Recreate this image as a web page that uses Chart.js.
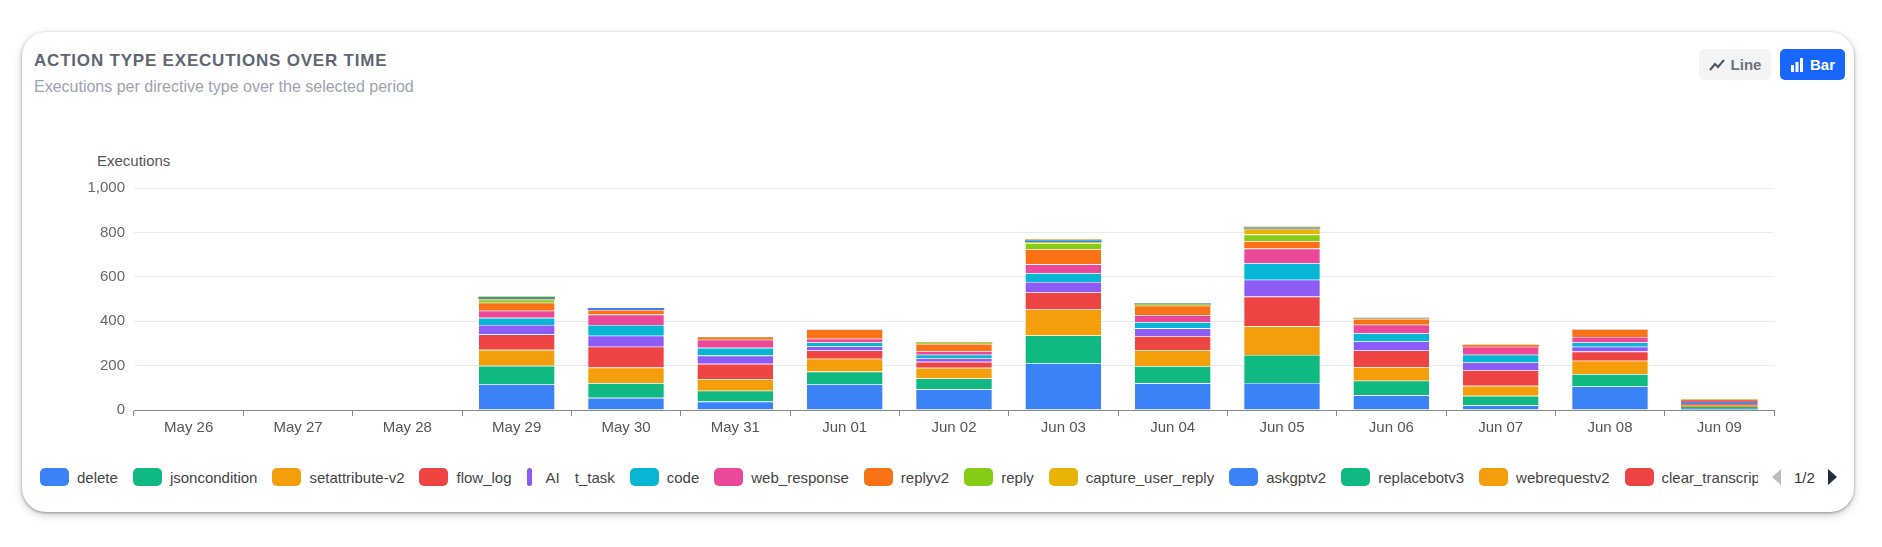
<!DOCTYPE html>
<html>
<head>
<meta charset="utf-8">
<script src="https://cdn.jsdelivr.net/npm/chart.js@4.4.1/dist/chart.umd.min.js"></script>
<style>
body{margin:0;background:#fff;font-family:"Liberation Sans",Arial,sans-serif;width:1882px;height:547px;overflow:hidden;position:relative}
.card{position:absolute;left:22px;top:32px;width:1832px;height:480px;border-radius:24px;background:#fff;box-shadow:0 1px 3px rgba(0,0,0,.35),0 3px 10px rgba(0,0,0,.18)}
.title{position:absolute;left:34px;top:51px;font-size:17px;font-weight:600;letter-spacing:.8px;color:#5f6673}
.sub{position:absolute;left:34px;top:78px;font-size:16px;color:#9ca3af}
.btn{position:absolute;top:49px;height:31px;border-radius:5px;font-size:15px;font-weight:600;display:flex;align-items:center;justify-content:center;gap:6px}
.line{left:1699px;width:72px;background:#f3f4f6;color:#6b7280}
.bar{left:1780px;width:65px;background:#1766ff;color:#fff}
.ytitle{position:absolute;left:97px;top:152px;font-size:15px;color:#555}
#wrap{position:absolute;left:60px;top:170px;width:1740px;height:270px}
#legend{position:absolute;left:40px;top:466px;width:1718px;height:22px;overflow:hidden;display:flex;white-space:nowrap;font-size:15px;color:#444}
.li{display:flex;align-items:center;margin-right:15px}
.sw{width:29px;height:18px;border-radius:5px;margin-right:8px;flex:none}
.pager{position:absolute;left:1770px;top:466px;height:22px;display:flex;align-items:center;font-size:15px;color:#333}
</style>
</head>
<body>
<div class="card"></div>
<div class="title">ACTION TYPE EXECUTIONS OVER TIME</div>
<div class="sub">Executions per directive type over the selected period</div>
<div class="btn line"><svg width="16" height="12" viewBox="0 0 16 12"><polyline points="1,11 6,5 9,8 15,1" fill="none" stroke="#4b5563" stroke-width="2"/></svg>Line</div>
<div class="btn bar"><svg width="14" height="14" viewBox="0 0 14 14"><rect x="1" y="7" width="3" height="7" fill="#fff"/><rect x="5.5" y="4" width="3" height="10" fill="#fff"/><rect x="10" y="0" width="3" height="14" fill="#fff"/></svg>Bar</div>
<div class="ytitle">Executions</div>
<div id="wrap"><canvas id="grafica"></canvas></div>
<div id="legend"></div>
<div class="pager"><svg width="12" height="18"><polygon points="11,1 11,17 2,9" fill="#bbb"/></svg><span style="margin:0 12px 0 12px">1/2</span><svg width="12" height="18"><polygon points="1,1 1,17 10,9" fill="#1f2d3d"/></svg></div>

<script>
// datos
const dias = ['May 26','May 27','May 28','May 29','May 30','May 31','Jun 01','Jun 02','Jun 03','Jun 04','Jun 05','Jun 06','Jun 07','Jun 08','Jun 09'];

const tipos = ['delete','jsoncondition','setattribute-v2','flow_log','AI t_task','code','web_response','replyv2','reply','capture_user_reply','askgptv2','replacebotv3','webrequestv2','clear_transcript'];

const colores = ['#3b82f6','#10b981','#f59e0b','#ef4444','#8b5cf6','#06b6d4','#ec4899','#f97316','#84cc16','#eab308','#3b82f6','#10b981','#f59e0b','#ef4444'];

const deleteV        = [0,0,0,116,55,38,116,93,210,120,122,66,21,106,6];
const jsoncondition  = [0,0,0,83,66,49,57,49,126,78,126,66,43,56,8];
const setattribute   = [0,0,0,72,70,52,58,48,117,72,129,61,45,60,6];
const flowLog        = [0,0,0,70,94,69,37,27,78,63,134,75,70,41,6];
const aiTask         = [0,0,0,42,50,37,18,17,46,35,76,41,35,22,5];
const code           = [0,0,0,32,48,35,18,15,40,28,74,37,35,19,5];
const webResponse    = [0,0,0,32,47,37,17,16,39,31,66,38,36,25,5];
const replyv2        = [0,0,0,36,21,13,42,33,69,43,34,26,9,35,4];
const reply          = [0,0,0,14,0,0,0,4,27,3,29,0,0,0,2];
const captureReply   = [0,0,0,3,0,0,0,2,4,2,27,2,0,0,1];
const askgptv2       = [0,0,0,5,8,0,1,1,6,3,3,2,0,1,0];
const replacebotv3   = [0,0,0,4,0,0,0,1,4,2,2,1,0,0,0];
const webrequestv2   = [0,0,0,1,0,0,0,0,2,1,2,0,0,0,0];
const clearTranscript= [0,0,0,1,0,0,0,0,1,1,2,0,0,0,0];

const series = [deleteV,jsoncondition,setattribute,flowLog,aiTask,code,webResponse,replyv2,reply,captureReply,askgptv2,replacebotv3,webrequestv2,clearTranscript];

const yTicks = [0,200,400,600,800,1000];

// leyenda
const leg = document.getElementById('legend');
tipos.forEach((t,i) => {
  const d = document.createElement('div');
  d.className = 'li';
  if (t === 'AI t_task') {
    d.innerHTML = '<span class="sw" style="width:5px;background:'+colores[i]+';margin-right:14px"></span><span>AI</span><span style="margin-left:15px">t_task</span>';
  } else {
    d.innerHTML = '<span class="sw" style="background:'+colores[i]+'"></span><span>'+t+'</span>';
  }
  leg.appendChild(d);
});

// grafica
const ctx = document.getElementById('grafica');

new Chart(ctx, {
  type: 'bar',
  data: {
    labels: dias,
    datasets: series.map((s,i) => ({
      label: tipos[i],
      data: s,
      backgroundColor: colores[i],
      borderColor: 'rgba(255,255,255,0.3)',
      borderWidth: c => c.raw >= 10 ? 0.6 : 0,
      categoryPercentage: 0.7,
      barPercentage: 1
    }))
  },
  options: {
    responsive: true,
    maintainAspectRatio: false,
    animation: false,
    layout: { padding: { top: 18, right: 26 } },
    plugins: { legend: { display: false }, tooltip: { enabled: false } },
    scales: {
      x: {
        stacked: true,
        grid: { offset: true, drawOnChartArea: false, drawTicks: true, tickLength: 6, color: '#888' },
        border: { color: '#888' },
        ticks: { color: '#555', font: { family: 'Liberation Sans', size: 15 }, padding: 3 },
        afterFit: s => { s.height = 30; }
      },
      y: {
        stacked: true,
        min: 0,
        max: 1000,
        afterBuildTicks: s => { s.ticks = yTicks.map(v => ({ value: v })); },
        grid: { color: '#e6eaf3', drawTicks: false },
        border: { display: false },
        ticks: { color: '#666', font: { family: 'Liberation Sans', size: 15 }, padding: 9,
          callback: v => v.toLocaleString('en-US') },
        afterFit: s => { s.width = 74; }
      }
    }
  }
});
</script>
</body>
</html>
